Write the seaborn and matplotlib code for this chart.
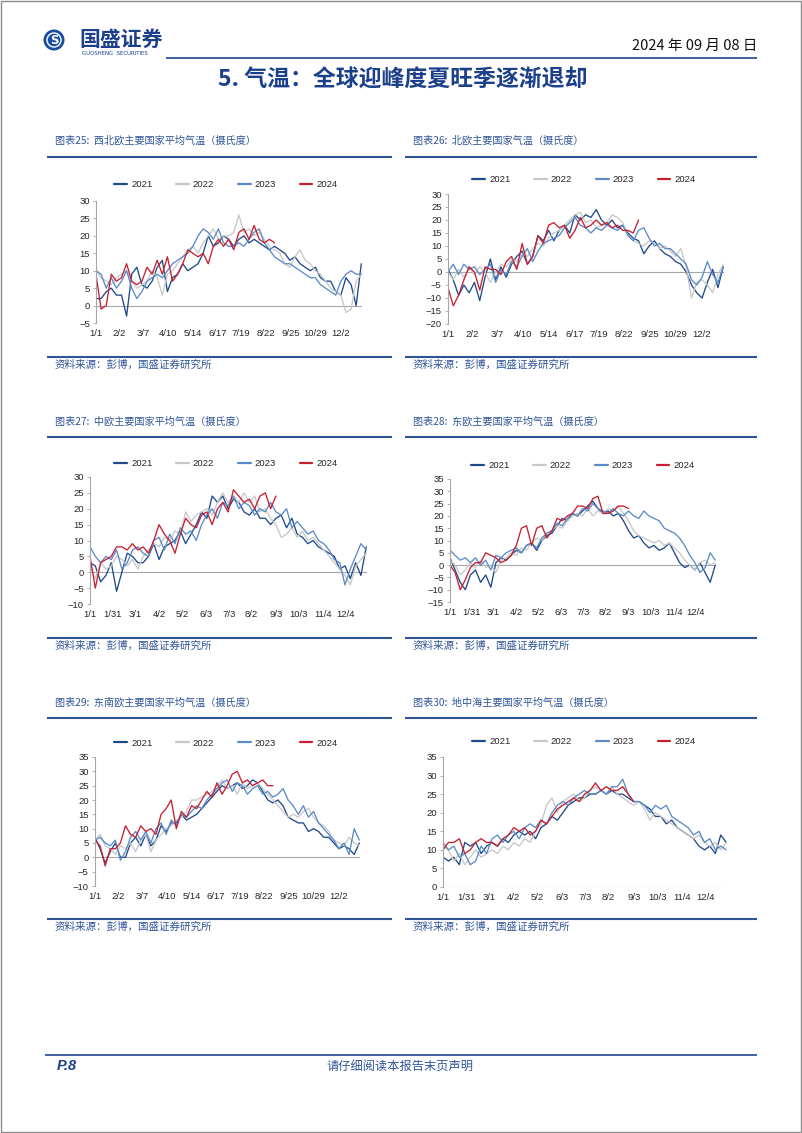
import numpy as np
import pandas as pd
import matplotlib
matplotlib.use("Agg")
import matplotlib.pyplot as plt
import seaborn as sns
from matplotlib.lines import Line2D
from matplotlib.patches import Ellipse, Rectangle

# ---------------- data (weekly samples, day 0 = 1/1) ----------------
years = ["2021", "2022", "2023", "2024"]
sample_step_days = 7

ticks_a = ["1/1", "2/2", "3/7", "4/10", "5/14", "6/17", "7/19", "8/22", "9/25", "10/29", "12/2"]
ticks_b = ["1/1", "1/31", "3/1", "4/2", "5/2", "6/3", "7/3", "8/2", "9/3", "10/3", "11/4", "12/4"]

# 图表25 西北欧
nw_2021 = [2, 2, 4, 5, 3, 3, -3, 9, 11, 6, 5, 7, 11, 13, 4, 8, 9, 12, 10, 11, 12, 15, 20, 17, 18, 20, 19, 17, 19, 20, 18, 19, 18, 17, 16, 17, 16, 15, 13, 14, 12, 11, 10, 11, 8, 7, 7, 4, 3, 8, 6, 0, 12]
nw_2022 = [10, 8, 7, 6, 8, 9, 10, 7, 5, 6, 7, 10, 8, 3, 9, 10, 12, 14, 16, 17, 15, 18, 20, 22, 19, 20, 20, 21, 26, 21, 22, 20, 21, 19, 17, 16, 15, 12, 11, 14, 16, 13, 12, 10, 9, 7, 5, 4, 3, -2, -1, 7, 9]
nw_2023 = [10, 9, 5, 8, 5, 7, 10, 5, 2, 4, 7, 8, 9, 8, 10, 12, 13, 14, 15, 17, 20, 22, 21, 19, 22, 18, 17, 17, 18, 17, 19, 21, 22, 18, 16, 14, 13, 12, 12, 11, 10, 9, 8, 8, 6, 5, 4, 3, 7, 9, 10, 9, 9]
nw_2024 = [9, -1, 0, 9, 7, 8, 12, 7, 6, 7, 11, 9, 13, 9, 14, 7, 9, 12, 16, 15, 14, 15, 12, 17, 19, 17, 19, 16, 21, 22, 19, 23, 19, 18, 19, 18]

# 图表26 北欧
n_2021 = [1, -3, -9, -5, -8, -4, -11, -2, 5, -3, 2, -2, 3, 6, 8, 3, 6, 14, 12, 16, 12, 16, 18, 15, 22, 20, 22, 21, 24, 20, 18, 20, 17, 18, 15, 13, 12, 7, 10, 12, 9, 7, 6, 4, 3, 0, -5, -8, -10, -4, 1, -6, 2]
n_2022 = [0, -3, 1, -2, 2, -1, 2, 0, -4, 0, 3, 2, 5, 4, 7, 6, 9, 11, 10, 13, 15, 16, 18, 20, 22, 23, 19, 20, 17, 18, 19, 22, 21, 19, 14, 12, 11, 10, 12, 11, 9, 10, 8, 6, 9, 2, -10, -4, -3, -5, -8, -1, 3]
n_2023 = [0, 3, -1, 3, 1, 2, -1, 1, 3, -4, 1, -1, 4, 2, 6, 9, 4, 8, 11, 12, 13, 14, 17, 19, 21, 18, 17, 15, 17, 16, 18, 17, 16, 18, 14, 12, 16, 17, 13, 10, 11, 9, 9, 7, 5, 3, -3, -5, -2, 4, -1, -4, 2]
n_2024 = [-6, -13, -9, -3, 2, 0, -7, 2, 1, 1, -1, 4, 6, 1, 11, 3, 6, 14, 11, 18, 19, 17, 18, 13, 16, 21, 17, 18, 20, 18, 19, 17, 18, 16, 16, 15, 20]

# 图表27 中欧
c_2021 = [3, 2, -3, -1, 3, -6, 0, 6, 5, 3, 3, 5, 9, 4, 8, 9, 10, 13, 9, 12, 15, 19, 17, 24, 22, 24, 20, 23, 22, 19, 18, 20, 17, 17, 15, 17, 18, 14, 17, 12, 11, 9, 10, 8, 7, 6, 5, 1, 2, -2, 3, -1, 8]
c_2022 = [2, -2, 3, 1, 2, 5, 4, 2, 4, 1, 5, 7, 9, 8, 11, 10, 13, 12, 19, 16, 18, 19, 20, 18, 22, 25, 22, 24, 22, 25, 22, 24, 19, 20, 17, 15, 11, 12, 14, 11, 13, 10, 11, 9, 7, 5, 3, 1, -1, -4, 2, 4, 6]
c_2023 = [8, 5, 3, 5, 4, 7, 1, 3, 7, 8, 6, 5, 10, 11, 7, 12, 9, 14, 12, 13, 10, 15, 18, 20, 17, 22, 21, 24, 20, 22, 21, 18, 20, 19, 22, 19, 18, 20, 14, 16, 14, 12, 13, 10, 9, 7, 4, 3, -4, 1, 5, 9, 7]
c_2024 = [5, -5, 3, 4, 5, 8, 8, 7, 9, 7, 8, 6, 10, 15, 12, 10, 6, 12, 17, 15, 14, 18, 19, 15, 20, 22, 19, 26, 24, 22, 23, 20, 24, 25, 20, 24]

# 图表28 东欧
e_2021 = [3, -2, -7, -10, -4, -2, -7, -4, -9, 1, 3, 2, 4, 6, 5, 8, 9, 6, 10, 12, 13, 16, 19, 18, 21, 20, 22, 24, 26, 23, 21, 22, 20, 21, 18, 14, 11, 12, 9, 7, 8, 6, 7, 9, 5, 1, -1, 0, -2, 1, -3, -7, 0]
e_2022 = [2, 0, -4, -2, 1, -1, 2, -1, 0, -3, 2, 3, 5, 4, 7, 6, 9, 11, 10, 13, 14, 16, 15, 18, 20, 21, 20, 23, 20, 22, 21, 23, 22, 24, 21, 18, 14, 12, 11, 10, 9, 10, 8, 9, 7, 5, 2, 0, -2, 1, 2, 0, 1]
e_2023 = [6, 4, 2, 3, 1, 3, 0, 2, -2, 4, 3, 5, 6, 7, 5, 8, 9, 7, 11, 13, 14, 17, 16, 19, 21, 20, 23, 22, 25, 23, 22, 21, 23, 21, 20, 22, 20, 19, 22, 20, 19, 18, 15, 14, 13, 11, 8, 4, 1, -3, -1, 5, 2]
e_2024 = [0, -3, -10, -6, -1, 1, 1, 5, 4, 3, 1, 2, 4, 8, 15, 16, 8, 15, 16, 11, 14, 19, 18, 20, 21, 24, 24, 23, 27, 28, 21, 21, 22, 24, 24, 23]

# 图表29 东南欧
se_2021 = [7, 3, -2, 2, 5, 0, 0, 5, 7, 4, 8, 4, 6, 11, 9, 12, 12, 15, 13, 14, 15, 17, 19, 21, 23, 25, 24, 25, 26, 24, 25, 27, 26, 23, 20, 19, 20, 18, 14, 13, 12, 12, 9, 10, 9, 7, 7, 5, 3, 4, 3, 1, 5]
se_2022 = [6, 8, 4, 3, 1, 4, 3, 5, 2, 6, 8, 2, 6, 8, 10, 11, 13, 14, 16, 20, 20, 21, 22, 23, 25, 27, 24, 25, 22, 26, 24, 25, 26, 24, 22, 20, 18, 16, 14, 15, 14, 16, 17, 14, 12, 11, 9, 6, 5, 4, 7, 5, 4]
se_2023 = [6, 7, 5, 4, 6, -1, 2, 7, 9, 6, 9, 5, 10, 12, 8, 13, 11, 15, 14, 16, 18, 17, 20, 22, 24, 26, 27, 23, 26, 25, 22, 24, 25, 22, 23, 21, 22, 24, 20, 18, 15, 18, 14, 16, 12, 10, 8, 6, 3, 5, 1, 10, 6]
se_2024 = [6, 4, -3, 3, 3, 5, 11, 8, 7, 11, 9, 10, 8, 15, 17, 20, 10, 16, 14, 18, 17, 20, 23, 21, 26, 22, 25, 29, 30, 26, 27, 25, 26, 27, 25, 25]

# 图表30 地中海
m_2021 = [8, 7, 8, 6, 12, 11, 12, 9, 11, 12, 11, 13, 12, 14, 15, 14, 15, 13, 16, 17, 19, 18, 20, 22, 23, 24, 24, 25, 25, 26, 25, 26, 25, 25, 24, 23, 23, 22, 21, 19, 19, 17, 18, 16, 15, 14, 13, 11, 10, 11, 9, 14, 12]
m_2022 = [11, 10, 7, 9, 6, 8, 10, 8, 9, 10, 9, 11, 10, 12, 11, 13, 12, 15, 17, 22, 24, 20, 23, 24, 25, 23, 24, 26, 27, 26, 25, 27, 25, 24, 23, 22, 23, 21, 18, 20, 19, 18, 17, 16, 15, 14, 13, 14, 12, 11, 12, 10, 12]
m_2023 = [12, 10, 11, 8, 9, 6, 7, 11, 9, 13, 14, 12, 14, 15, 13, 16, 17, 16, 18, 17, 20, 22, 23, 22, 24, 25, 26, 25, 25, 26, 25, 27, 27, 29, 25, 23, 23, 22, 20, 22, 21, 22, 19, 18, 17, 16, 14, 15, 12, 13, 10, 11, 10]
m_2024 = [10, 12, 12, 13, 9, 10, 12, 13, 12, 12, 11, 13, 14, 16, 15, 16, 14, 15, 18, 17, 19, 21, 22, 23, 24, 23, 25, 26, 28, 26, 27, 26, 26, 27, 25, 23]

captions = [
    "图表25:  西北欧主要国家平均气温（摄氏度）",
    "图表26:  北欧主要国家气温（摄氏度）",
    "图表27:  中欧主要国家平均气温（摄氏度）",
    "图表28:  东欧主要国家平均气温（摄氏度）",
    "图表29:  东南欧主要国家平均气温（摄氏度）",
    "图表30:  地中海主要国家平均气温（摄氏度）",
]
source_text = "资料来源：彭博，国盛证券研究所"

# ---------------- styling ----------------
sns.set_theme(style="white")
plt.rcParams["font.family"] = ["Liberation Sans", "Noto Sans CJK SC", "DejaVu Sans"]
CJK = ["Noto Sans CJK SC", "DejaVu Sans"]

palette = {"2021": "#1F4A8A", "2022": "#C8C8C8", "2023": "#5B8BC7", "2024": "#C62030"}
BLUE = "#2F5496"
DARK_BLUE = "#1C3F8C"
AXIS_GREY = "#A6A6A6"

W, H = 802, 1133
fig = plt.figure(figsize=(W / 100, H / 100), dpi=100)
fig.patch.set_facecolor("white")


def fx(x):
    return x / W


def fy(y):
    return 1 - y / H


def hline(x0, x1, y, lw, color=BLUE):
    fig.add_artist(Line2D([fx(x0), fx(x1)], [fy(y), fy(y)], transform=fig.transFigure,
                          color=color, lw=lw, solid_capstyle="butt"))


def tick_days(labels):
    return [pd.Timestamp(f"2021-{lab.split('/')[0]}-{lab.split('/')[1]}").dayofyear - 1 for lab in labels]


def panel(rect, series, ylim, tick_labels, legend_center):
    l, r, t, b = rect
    ax = fig.add_axes([fx(l), fy(b), fx(r) - fx(l), fy(t) - fy(b)])
    frames = []
    for yr, vals in zip(years, series):
        frames.append(pd.DataFrame({"day": np.arange(len(vals)) * sample_step_days,
                                    "temp": vals, "year": yr}))
    df = pd.concat(frames, ignore_index=True)
    sns.lineplot(data=df, x="day", y="temp", hue="year", hue_order=years, palette=palette,
                 errorbar=None, linewidth=0.95, ax=ax, legend=True)
    handles, labels = ax.get_legend_handles_labels()
    for h in handles:
        h.set_linewidth(1.6)
    ax.legend(handles, labels, loc="center", ncol=4, frameon=False, fontsize=6.8,
              handlelength=1.35, handletextpad=0.45, columnspacing=2.5,
              bbox_to_anchor=(fx(legend_center[0]), fy(legend_center[1])),
              bbox_transform=fig.transFigure)
    ax.set_xlim(0, 365)
    ax.set_ylim(*ylim)
    ax.set_yticks(np.arange(ylim[0], ylim[1] + 1, 5))
    ax.set_xticks(tick_days(tick_labels))
    ax.set_xticklabels(tick_labels)
    ax.axhline(0, color=AXIS_GREY, lw=0.8, zorder=1)
    for s in ["top", "right", "bottom"]:
        ax.spines[s].set_visible(False)
    ax.spines["left"].set_color(AXIS_GREY)
    ax.spines["left"].set_linewidth(0.8)
    ax.tick_params(axis="x", length=0, pad=4.5, labelsize=6.8, labelcolor="#262626")
    ax.tick_params(axis="y", length=2.5, width=0.6, color=AXIS_GREY, pad=2,
                   labelsize=6.8, labelcolor="#262626", direction="out", left=True)
    ax.set_xlabel("")
    ax.set_ylabel("")
    ax.set_facecolor("none")
    ax.grid(False)
    return ax


# ---------------- header ----------------
fig.add_artist(Ellipse((fx(54), fy(40)), 21 / W, 21 / H, transform=fig.transFigure,
                       facecolor="#1A4FA0", edgecolor="none"))
fig.add_artist(Ellipse((fx(54), fy(40)), 14 / W, 14 / H, transform=fig.transFigure,
                       facecolor="none", edgecolor="white", lw=1.0))
fig.text(fx(54), fy(40.5), "S", color="white", fontsize=8.5, fontweight="bold",
         ha="center", va="center", family=["DejaVu Sans"])
fig.text(fx(79), fy(39), "国盛证券", color=DARK_BLUE, fontsize=15, fontweight="bold",
         ha="left", va="center", family=CJK)
fig.text(fx(82), fy(53.5), "GUOSHENG  SECURITIES", color="#1C3F8C", fontsize=3.9,
         ha="left", va="center", family=["DejaVu Sans"])
fig.text(fx(757), fy(46), "2024 年 09 月 08 日", color="#111111", fontsize=10.5,
         ha="right", va="center", family=CJK)
hline(166, 757, 57.5, 1.3)
fig.text(fx(403), fy(80), "5. 气温：全球迎峰度夏旺季逐渐退却", color=DARK_BLUE, fontsize=16.5,
         fontweight="bold", ha="center", va="center", family=CJK)

# ---------------- panel frames ----------------
rows = [(141, 157, 357, 365), (422, 437, 638, 646), (703, 718, 919, 927)]
cols = [(47, 392, 55), (405, 757, 413)]
k = 0
for cap_y, top_line, bot_line, src_y in rows:
    for x0, x1, tx in cols:
        fig.text(fx(tx), fy(cap_y), captions[k], color=BLUE, fontsize=7.3, style="italic",
                 ha="left", va="center", family=CJK)
        hline(x0, x1, top_line, 1.5)
        hline(x0, x1, bot_line, 1.5)
        fig.text(fx(tx), fy(src_y), source_text, color=BLUE, fontsize=7.6, style="italic",
                 ha="left", va="center", family=CJK)
        k += 1

# ---------------- charts ----------------
panel((96, 362, 201, 323), [nw_2021, nw_2022, nw_2023, nw_2024], (-5, 30), ticks_a, (226, 185))
panel((448, 724, 194, 324), [n_2021, n_2022, n_2023, n_2024], (-20, 30), ticks_a, (584, 180))
panel((90, 367, 477, 604), [c_2021, c_2022, c_2023, c_2024], (-10, 30), ticks_b, (226, 464))
panel((450, 716, 479, 602), [e_2021, e_2022, e_2023, e_2024], (-15, 35), ticks_b, (583, 466))
panel((95, 360, 757, 886), [se_2021, se_2022, se_2023, se_2024], (-10, 35), ticks_a, (226, 743))
panel((443, 727, 757, 887), [m_2021, m_2022, m_2023, m_2024], (0, 35), ticks_b, (584, 742))

# ---------------- footer ----------------
hline(45, 757, 1055, 1.3)
fig.text(fx(57), fy(1066), "P.8", color=DARK_BLUE, fontsize=10.5, fontweight="bold",
         style="italic", ha="left", va="center")
fig.text(fx(400), fy(1066), "请仔细阅读本报告末页声明", color=BLUE, fontsize=8.8,
         ha="center", va="center", family=CJK)

# page border
fig.add_artist(Rectangle((0.0008, 0.0006), 0.9984, 0.9988, transform=fig.transFigure,
                         facecolor="none", edgecolor="#8C8C8C", lw=1.0))

fig.savefig("out.png", dpi=100, facecolor="white")
